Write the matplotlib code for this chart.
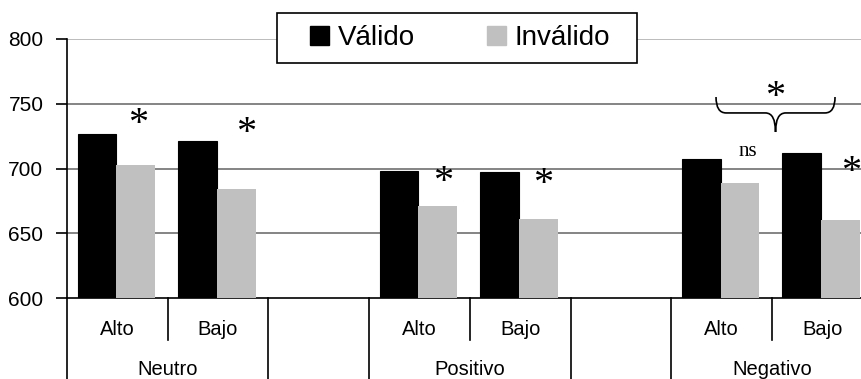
import matplotlib
matplotlib.use("Agg")
import matplotlib.pyplot as plt
from matplotlib.patches import Rectangle, PathPatch, Patch
from matplotlib.path import Path
import matplotlib.transforms as mtransforms

# Reaction times (ms) by valence group and level
groups = ["Neutro", "Positivo", "Negativo"]
levels = ["Alto", "Bajo"]
valido = [727, 721, 698, 697, 707, 712]
invalido = [703, 684, 671, 661, 689, 660]
# significance marks per condition (placed over the invalid bar)
marks = ["*", "*", "*", "*", "ns", "*"]
yticks = [600, 650, 700, 750, 800]

sans = "Liberation Sans"
serif = "Liberation Serif"

fig = plt.figure(figsize=(8.62, 3.79), dpi=100)
ax = fig.add_axes([67 / 862, 81 / 379, 1 - 67 / 862, 259 / 379])

# each group takes two slots plus an empty slot between groups
slot = [3 * g + l for g in range(len(groups)) for l in range(len(levels))]
w = 0.385
xv = [s - w / 2 - 0.01 for s in slot]
xi = [s + w / 2 - 0.01 for s in slot]
ax.bar(xv, [v - 600 for v in valido], bottom=600, width=w, color="black",
       edgecolor="black", linewidth=0.8, zorder=3, label="Válido")
ax.bar(xi, [v - 600 for v in invalido], bottom=600, width=w, color="#c0c0c0",
       linewidth=0, zorder=3, label="Inválido")

ax.set_ylim(600, 800)
ax.set_xlim(-0.5, -0.5 + 795 / 100.7)
ax.set_yticks(yticks)
ax.set_yticklabels([str(t) for t in yticks], fontfamily=sans, fontsize=15)
ax.tick_params(axis="y", direction="out", length=8, width=1.2, pad=9)
ax.set_xticks([])

for t in yticks[1:]:
    col = "#b0b0b0" if t == 800 else "#707070"
    ax.axhline(t, color=col, linewidth=1.2, zorder=1)

for side in ["top", "right"]:
    ax.spines[side].set_visible(False)
ax.spines["bottom"].set_linewidth(1.2)
ax.spines["left"].set_linewidth(1.2)

# two-level category axis below the plot
tr = mtransforms.blended_transform_factory(ax.transData, ax.transAxes)
n_slots = 3 * len(groups) - 1
for b in range(n_slots + 1):
    xb = b - 0.5
    short = (b % 3 == 1)
    y_end = -0.162 if short else -0.35
    ax.plot([xb, xb], [0, y_end], color="black", linewidth=1.2,
            transform=tr, clip_on=False)
for s, name in zip(slot, levels * len(groups)):
    ax.text(s, -0.12, name, transform=tr, ha="center", va="center",
            fontfamily=sans, fontsize=14.5)
for g, name in enumerate(groups):
    ax.text(3 * g + 0.5, -0.275, name, transform=tr, ha="center", va="center",
            fontfamily=sans, fontsize=14.5)

# significance marks
mark_dx = [0.21, 0.28, 0.23, 0.23, 0.26, 0.29]
mark_y = [734, 727, 689, 688, 713, 697]
for s, m, dx, y in zip(slot, marks, mark_dx, mark_y):
    if m == "ns":
        ax.text(s + dx, y, m, ha="center", va="center", fontfamily=serif,
                fontsize=15, zorder=5)
    else:
        ax.text(s + dx, y, m, ha="center", va="center", fontfamily=serif,
                fontsize=29, zorder=5)

# brace over the Negativo group with its own mark
x0, x1 = 5.945, 7.127
xc = (x0 + x1) / 2
ye, ym, yt = 755.2, 742.9, 728.2
dx = 0.1
verts = [(x0, ye), (x0, ym), (x0 + dx, ym), (xc - dx, ym), (xc, ym), (xc, yt),
         (xc, ym), (xc + dx, ym), (x1 - dx, ym), (x1, ym), (x1, ye)]
codes = [Path.MOVETO, Path.CURVE3, Path.CURVE3, Path.LINETO, Path.CURVE3,
         Path.CURVE3, Path.CURVE3, Path.CURVE3, Path.LINETO, Path.CURVE3,
         Path.CURVE3]
ax.add_patch(PathPatch(Path(verts, codes), facecolor="none", edgecolor="black",
                       linewidth=1.2, zorder=5, clip_on=False))
ax.text(xc, 755, "*", ha="center", va="center", fontfamily=serif, fontsize=29,
        zorder=5)

# legend box
fig.patches.append(Rectangle((277 / 862, 1 - 63 / 379), 360 / 862, 50 / 379,
                             transform=fig.transFigure, facecolor="white",
                             edgecolor="black", linewidth=1.2, zorder=10))
handles = [Patch(facecolor="black", edgecolor="black"),
           Patch(facecolor="#c0c0c0", edgecolor="#c0c0c0")]
leg = fig.legend(handles, ["Válido", "Inválido"], loc="center",
                 bbox_to_anchor=(460 / 862, 1 - 38 / 379), ncol=2,
                 frameon=False, prop={"family": sans, "size": 20},
                 handlelength=0.7, handleheight=0.7, handletextpad=0.3,
                 columnspacing=2.6, borderpad=0.2)
leg.set_zorder(11)

fig.savefig("out.png", dpi=100)
